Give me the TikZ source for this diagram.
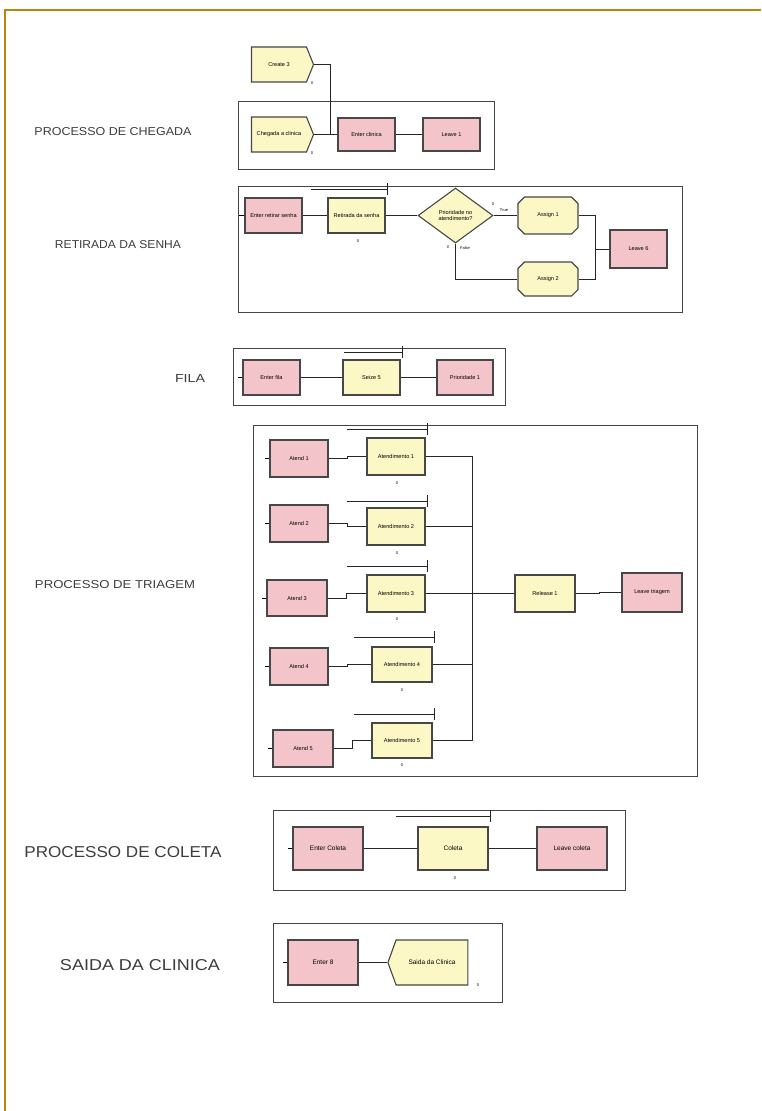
\documentclass[tikz,border=0pt]{standalone}
\usepackage{fontspec}
\usepackage{graphicx}
\setsansfont{Liberation Sans}
\usetikzlibrary{calc,shapes.geometric,shapes.misc,shapes.symbols}

\definecolor{pageGold}{HTML}{B8860B}
\definecolor{modPink}{HTML}{F3C5CB}
\definecolor{modYellow}{HTML}{FBF8C6}
\definecolor{frameGray}{HTML}{444444}
\definecolor{labelGray}{HTML}{3C3C3C}

\tikzset{
  mod/.style={draw=black!72, line width=1.1pt, inner sep=1pt, align=center,
    font=\sffamily\fontsize{5.6}{6}\selectfont},
  pinkbox/.style={mod, rectangle, fill=modPink},
  yelbox/.style={mod, rectangle, fill=modYellow},
  createbox/.style={mod, signal, signal to=east, signal pointer angle=136, fill=modYellow},
  disposebox/.style={mod, signal, signal to=west, signal pointer angle=140, fill=modYellow},
  assignbox/.style={mod, chamfered rectangle, chamfered rectangle xsep=4pt, fill=modYellow},
  decbox/.style={mod, diamond, fill=modYellow, inner sep=0pt},
  bigmod/.style={font=\sffamily\fontsize{6.5}{7}\selectfont},
  secframe/.style={draw=frameGray, line width=1pt, rectangle, inner sep=0pt},
  conn/.style={draw=black!85, line width=0.9pt},
  queue/.style={draw=black!85, line width=1.3pt},
  entry/.style={draw=black, line width=1pt},
  counter/.style={inner sep=0pt, font=\sffamily\fontsize{4}{4}\selectfont},
  seclabel/.style={inner sep=0pt, text=labelGray},
}

% queue bar above a process module: node, left offset, gap above the box
\newcommand\queuebar[3]{%
  \draw[queue] ($(#1.north west)+(#2,-#3)$) -- ($(#1.north east)+(2,-#3)$)
    ++(0,-6) -- ++(0,12);}

\begin{document}
\begin{tikzpicture}[x=1pt,y=-1pt]
\useasboundingbox (0,0) rectangle (761,1111);

% page rule
\draw[pageGold, line width=2pt] (5,1111) -- (5,10) -- (761,10);

% section titles
\node[seclabel] (tCheg) at (113,132) {\resizebox{157pt}{8pt}{\sffamily PROCESSO DE CHEGADA}};
\node[seclabel] (tRet)  at (118,245) {\resizebox{126pt}{8pt}{\sffamily RETIRADA DA SENHA}};
\node[seclabel] (tFila) at (190,378) {\resizebox{30pt}{8pt}{\sffamily FILA}};
\node[seclabel] (tTri)  at (115,585) {\resizebox{160pt}{8pt}{\sffamily PROCESSO DE TRIAGEM}};
\node[seclabel] (tCol)  at (123,852) {\resizebox{197pt}{11pt}{\sffamily PROCESSO DE COLETA}};
\node[seclabel] (tSai)  at (140,965) {\resizebox{160pt}{11pt}{\sffamily SAIDA DA CLINICA}};

% section frames
\node[secframe, minimum width=256, minimum height=68]  (fCheg) at (366,135) {};
\node[secframe, minimum width=444, minimum height=126] (fRet)  at (460,249) {};
\node[secframe, minimum width=272, minimum height=57]  (fFila) at (369,376.5) {};
\node[secframe, minimum width=444, minimum height=351] (fTri)  at (475,600.5) {};
\node[secframe, minimum width=352, minimum height=80]  (fCol)  at (449,850) {};
\node[secframe, minimum width=229, minimum height=79]  (fSai)  at (387.5,962.5) {};

% --- arrival
\node[createbox, minimum width=62, minimum height=35] (c3)   at (279,64.5)  {Create 3};
\node[createbox, minimum width=62, minimum height=35] (cheg) at (279,134.5) {Chegada a clinica};
\node[pinkbox, minimum width=57, minimum height=33] (entCli) at (366.5,134.5) {Enter clinica};
\node[pinkbox, minimum width=57, minimum height=33] (lv1)    at (451.5,134.5) {Leave 1};
\node[counter] (k1) at (312,83) {0};
\node[counter] (k2) at (312,153) {0};
\draw[conn] (c3.east) -- ++(16,0) |- (entCli.west);
\draw[conn] (cheg.east) -- (entCli.west);
\draw[conn] (entCli.east) -- (lv1.west);

% --- ticket
\node[pinkbox, minimum width=57, minimum height=35] (ers) at (273.5,215.5) {Enter retirar senha};
\node[yelbox,  minimum width=57, minimum height=35] (ret) at (356.5,215.5) {Retirada da senha};
\node[decbox,  minimum width=75, minimum height=55] (dec) at (455.5,215.5) {Prioridade no\\atendimento?};
\node[assignbox, minimum width=60, minimum height=37] (as1) at (548,215.5) {Assign 1};
\node[assignbox, minimum width=60, minimum height=34] (as2) at (548,279) {Assign 2};
\node[pinkbox, minimum width=57, minimum height=38] (lv6) at (638.5,249) {Leave 6};
\coordinate (jr) at (595,249);
\queuebar{ret}{-16}{8}
\node[counter] (k3) at (358,241) {0};
\node[counter] (kT) at (493,204) {0};
\node[counter] (lT) at (504,210) {True};
\node[counter] (kF) at (448,247) {0};
\node[counter] (lF) at (465,248) {False};
\draw[entry] (ers.west) -- ++(-5,0);
\draw[conn] (ers.east) -- (ret.west);
\draw[conn] (ret.east) -- (dec.west);
\draw[conn] (dec.east) -- (as1.west);
\draw[conn] (dec.south) |- (as2.west);
\draw[conn] (as1.east) -| (jr);
\draw[conn] (as2.east) -| (jr);
\draw[conn] (jr) -- (lv6.west);

% --- queue
\node[pinkbox, minimum width=57, minimum height=35] (ef)  at (271.5,377.5) {Enter fila};
\node[yelbox,  minimum width=57, minimum height=35] (sz5) at (371.5,377.5) {Seize 5};
\node[pinkbox, minimum width=56, minimum height=35] (pr1) at (465,377.5) {Prioridade 1};
\queuebar{sz5}{2}{7}
\draw[entry] (ef.west) -- ++(-4,0);
\draw[conn] (ef.east) -- (sz5.west);
\draw[conn] (sz5.east) -- (pr1.west);

% --- triage
\node[pinkbox, minimum width=58, minimum height=37] (at1) at (299,458.5) {Atend 1};
\node[pinkbox, minimum width=58, minimum height=37] (at2) at (299,523.5) {Atend 2};
\node[pinkbox, minimum width=60, minimum height=36] (at3) at (297,598)   {Atend 3};
\node[pinkbox, minimum width=58, minimum height=37] (at4) at (299,666.5) {Atend 4};
\node[pinkbox, minimum width=60, minimum height=37] (at5) at (303,748.5) {Atend 5};
\node[yelbox, minimum width=58, minimum height=37] (atd1) at (396,456.5) {Atendimento 1};
\node[yelbox, minimum width=58, minimum height=37] (atd2) at (396,526.5) {Atendimento 2};
\node[yelbox, minimum width=58, minimum height=37] (atd3) at (396,593.5) {Atendimento 3};
\node[yelbox, minimum width=60, minimum height=35] (atd4) at (402,664.5) {Atendimento 4};
\node[yelbox, minimum width=60, minimum height=35] (atd5) at (402,740.5) {Atendimento 5};
\node[yelbox, minimum width=60, minimum height=37] (rel)  at (545,593.5) {Release 1};
\node[pinkbox, minimum width=60, minimum height=39] (lvt) at (652,592.5) {Leave triagem};
\coordinate (bus) at (472,593.5);
\queuebar{atd1}{-19}{8}
\queuebar{atd2}{-19}{6}
\queuebar{atd3}{-19}{8}
\queuebar{atd4}{-17}{9}
\queuebar{atd5}{-17}{8}
\node[counter] (k4) at (397,483) {0};
\node[counter] (k5) at (397,553) {0};
\node[counter] (k6) at (397,619) {0};
\node[counter] (k7) at (402,690) {0};
\node[counter] (k8) at (402,765) {0};
\foreach \i in {1,...,5} {
  \draw[entry] (at\i.west) -- ++(-4,0);
  \draw[conn] (at\i.east) -- ++(19,0) |- (atd\i.west);
}
\draw[conn] (atd1.east) -| (bus);
\draw[conn] (atd5.east) -| (bus);
\draw[conn] (atd2.east) -- (atd2.east -| bus);
\draw[conn] (atd3.east) -- (atd3.east -| bus);
\draw[conn] (atd4.east) -- (atd4.east -| bus);
\draw[conn] (bus) -- (rel.west);
\draw[conn] (rel.east) -- ++(24,0) |- (lvt.west);

% --- sample collection
\node[pinkbox, bigmod, minimum width=70, minimum height=43] (ecol) at (328,848.5) {Enter Coleta};
\node[yelbox,  bigmod, minimum width=70, minimum height=43] (col)  at (453,848.5) {Coleta};
\node[pinkbox, bigmod, minimum width=70, minimum height=43] (lcol) at (572,848.5) {Leave coleta};
\queuebar{col}{-21}{10}
\node[counter] (k9) at (455,878) {0};
\draw[entry] (ecol.west) -- ++(-4,0);
\draw[conn] (ecol.east) -- (col.west);
\draw[conn] (col.east) -- (lcol.west);

% --- exit
\node[pinkbox, bigmod, minimum width=70, minimum height=45] (e8)  at (323,962.5) {Enter 8};
\node[disposebox, bigmod, minimum width=80, minimum height=45] (sai) at (432,962.5) {Saida da Clinica};
\node[counter] (k10) at (478,985) {0};
\draw[entry] (e8.west) -- ++(-4,0);
\draw[conn] (e8.east) -- (sai.west);

\end{tikzpicture}
\end{document}
